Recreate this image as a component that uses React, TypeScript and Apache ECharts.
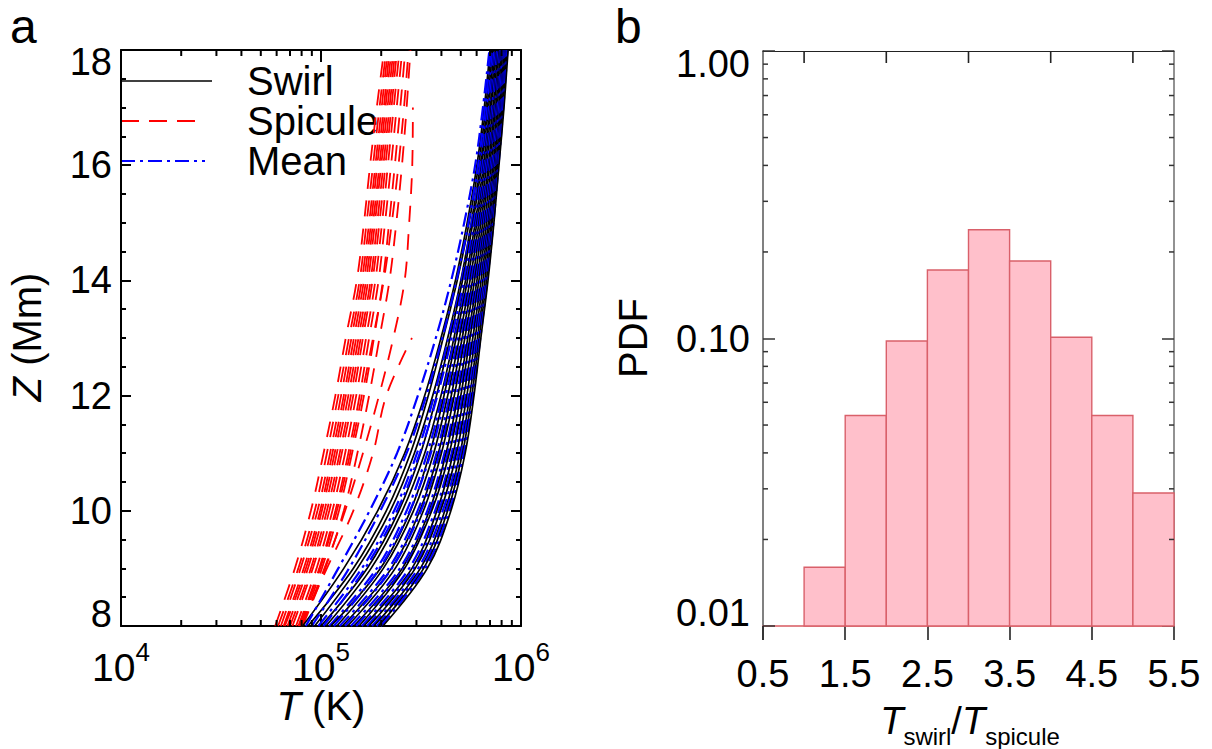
import React, { useEffect, useRef } from "react";
import * as echarts from "echarts";

const FONT = "'Liberation Sans', Arial, Helvetica, sans-serif";

// ---------- Panel a ----------
// heights (Mm) at which every profile is read
const zLevels = [8, 9, 10, 11, 12, 13, 14, 15, 16, 17, 18];
// temperatures in units of 1e5 K, one row per profile, one value per height
const swirlT: (number | null)[][] = [
  [0.81, 1.3, 1.92, 2.62, 3.3, 3.98, 4.7, 5.38, 6.02, 6.55, 7.0],
  [0.86, 1.45, 2.12, 2.8, 3.44, 4.08, 4.8, 5.5, 6.14, 6.66, 7.12],
  [0.93, 1.52, 2.22, 2.93, 3.62, 4.3, 5.0, 5.64, 6.26, 6.76, 7.22],
  [1.0, 1.7, 2.45, 3.15, 3.78, 4.42, 5.1, 5.74, 6.36, 6.88, 7.32],
  [1.06, 1.78, 2.55, 3.3, 3.98, 4.62, 5.28, 5.9, 6.5, 7.0, 7.44],
  [1.12, 1.98, 2.8, 3.5, 4.12, 4.74, 5.4, 6.02, 6.62, 7.1, 7.54],
  [1.2, 2.05, 2.9, 3.66, 4.3, 4.92, 5.56, 6.16, 6.74, 7.24, 7.66],
  [1.28, 2.25, 3.12, 3.86, 4.48, 5.08, 5.72, 6.3, 6.88, 7.36, 7.78],
  [1.36, 2.35, 3.25, 4.0, 4.64, 5.24, 5.86, 6.44, 6.98, 7.48, 7.9],
  [1.46, 2.55, 3.48, 4.22, 4.84, 5.42, 6.02, 6.58, 7.12, 7.6, 8.0],
  [1.55, 2.62, 3.58, 4.38, 5.0, 5.56, 6.16, 6.72, 7.24, 7.72, 8.1],
  [1.64, 2.85, 3.8, 4.58, 5.18, 5.74, 6.32, 6.86, 7.36, 7.84, 8.22],
  [1.74, 2.96, 3.96, 4.76, 5.36, 5.9, 6.46, 6.98, 7.48, 7.94, 8.32],
  [1.84, 3.14, 4.16, 4.96, 5.54, 6.06, 6.6, 7.1, 7.58, 8.04, 8.42],
  [1.94, 3.26, 4.3, 5.1, 5.68, 6.18, 6.72, 7.2, 7.66, 8.12, 8.52],
  [2.04, 3.4, 4.46, 5.26, 5.82, 6.3, 6.84, 7.32, 7.76, 8.22, 8.62],
];
const meanT: (number | null)[][] = [
  [0.84, 1.22, 1.75, 2.4, 3.05, 3.75, 4.48, 5.2, 5.9, 6.45, 6.95],
  [0.9, 1.38, 1.98, 2.68, 3.36, 4.04, 4.76, 5.46, 6.1, 6.62, 7.08],
  [0.97, 1.6, 2.32, 3.02, 3.68, 4.34, 5.04, 5.66, 6.28, 6.78, 7.24],
  [1.03, 1.66, 2.4, 3.12, 3.82, 4.5, 5.18, 5.82, 6.42, 6.92, 7.36],
  [1.1, 1.9, 2.68, 3.4, 4.04, 4.66, 5.34, 5.96, 6.56, 7.06, 7.48],
  [1.16, 1.96, 2.78, 3.54, 4.2, 4.84, 5.48, 6.1, 6.68, 7.18, 7.6],
  [1.24, 2.18, 3.04, 3.78, 4.4, 5.02, 5.64, 6.24, 6.8, 7.3, 7.72],
  [1.32, 2.26, 3.16, 3.92, 4.56, 5.16, 5.8, 6.38, 6.94, 7.44, 7.86],
  [1.41, 2.48, 3.4, 4.14, 4.76, 5.34, 5.96, 6.52, 7.06, 7.56, 7.96],
  [1.5, 2.58, 3.52, 4.3, 4.92, 5.5, 6.1, 6.66, 7.18, 7.66, 8.06],
  [1.6, 2.76, 3.72, 4.5, 5.1, 5.66, 6.26, 6.8, 7.3, 7.78, 8.16],
  [1.7, 2.9, 3.88, 4.68, 5.28, 5.84, 6.4, 6.94, 7.44, 7.9, 8.28],
  [1.8, 3.06, 4.06, 4.86, 5.46, 5.98, 6.54, 7.06, 7.54, 8.0, 8.38],
  [1.9, 3.2, 4.22, 5.02, 5.6, 6.12, 6.66, 7.16, 7.64, 8.08, 8.48],
  [1.99, 3.32, 4.38, 5.18, 5.76, 6.26, 6.78, 7.28, 7.72, 8.16, 8.56],
];
const spiculeT: (number | null)[][] = [
  [0.59, 0.74, 0.89, 1.03, 1.18, 1.33, 1.51, 1.64, 1.76, 1.9, 2.07],
  [0.61, 0.77, 0.93, 1.07, 1.22, 1.38, 1.56, 1.69, 1.82, 1.96, 2.12],
  [0.63, 0.79, 0.96, 1.11, 1.26, 1.42, 1.6, 1.74, 1.87, 2.01, 2.16],
  [0.65, 0.82, 0.99, 1.14, 1.3, 1.46, 1.64, 1.78, 1.91, 2.06, 2.2],
  [0.66, 0.84, 1.01, 1.17, 1.33, 1.5, 1.68, 1.82, 1.96, 2.1, 2.25],
  [0.68, 0.86, 1.04, 1.2, 1.37, 1.54, 1.72, 1.86, 2.0, 2.15, 2.3],
  [0.7, 0.89, 1.07, 1.24, 1.41, 1.58, 1.77, 1.91, 2.05, 2.2, 2.35],
  [0.72, 0.91, 1.1, 1.27, 1.45, 1.62, 1.81, 1.96, 2.1, 2.25, 2.4],
  [0.75, 0.95, 1.14, 1.32, 1.5, 1.68, 1.87, 2.02, 2.16, 2.31, 2.47],
  [0.77, 0.98, 1.18, 1.37, 1.56, 1.74, 1.94, 2.09, 2.24, 2.39, 2.55],
  [0.79, 1.01, 1.23, 1.43, 1.64, 1.84, 2.04, 2.19, 2.34, 2.49, 2.64],
  [0.81, 1.05, 1.3, 1.52, 1.74, 1.96, 2.2, 2.38, 2.54, 2.68, 2.8],
  [0.8, 1.04, 1.32, 1.62, 1.95, 2.3, 2.62, 2.76, 2.86, 2.88, null],
  [0.79, 1.07, 1.45, 1.82, 2.12, 2.85, null, null, null, null, null],
  [0.78, 0.99, 1.2, 1.4, 1.6, 1.82, 2.06, 2.26, 2.44, 2.6, 2.74],
];
const T_UNIT = 1e5; // K
const xMinorTicksA = [2e4, 3e4, 4e4, 5e4, 6e4, 7e4, 8e4, 9e4, 2e5, 3e5, 4e5, 5e5, 6e5, 7e5, 8e5, 9e5];
const legendItems = ["Swirl", "Spicule", "Mean"];

// ---------- Panel b ----------
const binStart = [0.5, 1.0, 1.5, 2.0, 2.5, 3.0, 3.5, 4.0, 4.5, 5.0];
const binEnd = [1.0, 1.5, 2.0, 2.5, 3.0, 3.5, 4.0, 4.5, 5.0, 5.5];
const pdfValues = [0, 0.016, 0.054, 0.098, 0.173, 0.239, 0.186, 0.101, 0.054, 0.029];
const topTicksB = [1, 2, 3, 4, 5];
const yMinorTicksB = [0.02, 0.03, 0.04, 0.05, 0.06, 0.07, 0.08, 0.09, 0.2, 0.3, 0.4, 0.5, 0.6, 0.7, 0.8, 0.9];

const tickSeries = (
  xi: number,
  yi: number,
  pts: number[][],
  dx: number,
  dy: number,
  len: number,
  color: string,
  width: number
) => ({
  type: "custom",
  xAxisIndex: xi,
  yAxisIndex: yi,
  silent: true,
  z: 6,
  clip: false,
  data: pts,
  renderItem: (_p: any, api: any) => {
    const c = api.coord([api.value(0), api.value(1)]);
    return {
      type: "line",
      shape: { x1: c[0], y1: c[1], x2: c[0] + dx * len, y2: c[1] + dy * len },
      style: { stroke: color, lineWidth: width },
    };
  },
});

const profileSeries = (rows: (number | null)[][], color: string, dash: any, width: number, name: string) =>
  rows.map((row) => ({
    type: "line",
    name,
    xAxisIndex: 0,
    yAxisIndex: 0,
    silent: true,
    symbol: "none",
    showSymbol: false,
    smooth: 0.35,
    clip: true,
    data: row
      .map((t, j) => (t == null ? null : [t * T_UNIT, zLevels[j]]))
      .filter((d) => d !== null),
    lineStyle: { color, width, type: dash, cap: "butt" },
  }));

export default function App() {
  const ref = useRef<HTMLDivElement>(null);
  useEffect(() => {
    if (!ref.current) return;
    const chart = echarts.init(ref.current, undefined, { renderer: "svg" });

    const black = "#000";
    const labelStyle = { fontFamily: FONT, fontSize: 38, color: "#000" };

    const interleaved: any[] = [];
    const sw = profileSeries(swirlT, "#000000", "solid", 1.7, "Swirl");
    const mn = profileSeries(meanT, "#0000ff", [14, 5, 3, 5], 2.2, "Mean");
    for (let i = 0; i < Math.max(sw.length, mn.length); i++) {
      if (sw[i]) interleaved.push(sw[i]);
      if (mn[i]) interleaved.push(mn[i]);
    }

    const option: any = {
      animation: false,
      backgroundColor: "#fff",
      grid: [
        { left: 121, top: 50, width: 400, height: 576 },
        { left: 763, top: 51, width: 411, height: 575 },
      ],
      xAxis: [
        {
          gridIndex: 0,
          type: "log",
          logBase: 10,
          min: 1e4,
          max: 1e6,
          position: "bottom",
          axisLine: { lineStyle: { color: black, width: 2 } },
          axisTick: { inside: true, length: 12, lineStyle: { color: black, width: 2 } },
          splitLine: { show: false },
          axisLabel: {
            margin: 13,
            formatter: (v: number) => `{b|10}{s|${Math.round(Math.log10(v))}}`,
            rich: {
              b: { fontFamily: FONT, fontSize: 39, color: "#000", lineHeight: 48, verticalAlign: "bottom" },
              s: { fontFamily: FONT, fontSize: 26, color: "#000", lineHeight: 48, verticalAlign: "top" },
            },
          },
        },
        {
          gridIndex: 0,
          type: "log",
          logBase: 10,
          min: 1e4,
          max: 1e6,
          position: "top",
          axisLine: { lineStyle: { color: black, width: 2 } },
          axisTick: { inside: true, length: 12, lineStyle: { color: black, width: 2 } },
          splitLine: { show: false },
          axisLabel: { show: false },
        },
        {
          gridIndex: 1,
          type: "value",
          min: 0.5,
          max: 5.5,
          interval: 1,
          position: "bottom",
          axisLine: { lineStyle: { color: "#d75a60", width: 1.6 } },
          axisTick: { inside: false, length: 14, lineStyle: { color: "#222", width: 1.6 } },
          splitLine: { show: false },
          axisLabel: { ...labelStyle, margin: 29, formatter: (v: number) => v.toFixed(1) },
        },
        {
          gridIndex: 1,
          type: "value",
          min: 0.5,
          max: 5.5,
          position: "top",
          axisLine: { lineStyle: { color: "#222", width: 1.2 } },
          axisTick: { show: false },
          splitLine: { show: false },
          axisLabel: { show: false },
        },
      ],
      yAxis: [
        {
          gridIndex: 0,
          type: "value",
          min: 8,
          max: 18,
          interval: 2,
          position: "left",
          axisLine: { lineStyle: { color: black, width: 2 } },
          axisTick: { inside: true, length: 10, lineStyle: { color: black, width: 2 } },
          minorTick: { show: true, splitNumber: 4, length: 5, lineStyle: { color: black, width: 2 } },
          splitLine: { show: false },
          minorSplitLine: { show: false },
          axisLabel: {
            ...labelStyle,
            margin: 9,
            lineHeight: 24,
            verticalAlignMinLabel: "bottom",
            verticalAlignMaxLabel: "top",
          },
        },
        {
          gridIndex: 0,
          type: "value",
          min: 8,
          max: 18,
          interval: 2,
          position: "right",
          axisLine: { lineStyle: { color: black, width: 2 } },
          axisTick: { inside: true, length: 10, lineStyle: { color: black, width: 2 } },
          minorTick: { show: true, splitNumber: 4, length: 5, lineStyle: { color: black, width: 2 } },
          splitLine: { show: false },
          minorSplitLine: { show: false },
          axisLabel: { show: false },
        },
        {
          gridIndex: 1,
          type: "log",
          logBase: 10,
          min: 0.01,
          max: 1,
          position: "left",
          axisLine: { lineStyle: { color: "#808080", width: 2 } },
          axisTick: { inside: true, length: 12, lineStyle: { color: "#333", width: 1.5 } },
          splitLine: { show: false },
          axisLabel: {
            ...labelStyle,
            margin: 13,
            lineHeight: 26,
            formatter: (v: number) => v.toFixed(2),
            verticalAlignMinLabel: "bottom",
            verticalAlignMaxLabel: "top",
          },
        },
        {
          gridIndex: 1,
          type: "log",
          logBase: 10,
          min: 0.01,
          max: 1,
          position: "right",
          axisLine: { lineStyle: { color: "#777", width: 1.6 } },
          axisTick: { inside: true, length: 12, lineStyle: { color: "#333", width: 1.5 } },
          splitLine: { show: false },
          axisLabel: { show: false },
        },
      ],
      series: [
        ...profileSeries(spiculeT, "#ff0000", [16, 12], 1.8, "Spicule"),
        ...interleaved,
        tickSeries(0, 0, xMinorTicksA.map((v) => [v, 8]), 0, -1, 6, black, 2),
        tickSeries(0, 0, xMinorTicksA.map((v) => [v, 18]), 0, 1, 6, black, 2),
        {
          type: "custom",
          xAxisIndex: 2,
          yAxisIndex: 2,
          silent: true,
          z: 3,
          data: binStart.map((s, i) => [s, binEnd[i], pdfValues[i]]).filter((d) => d[2] > 0),
          encode: { x: [0, 1], y: 2 },
          renderItem: (_p: any, api: any) => {
            const p0 = api.coord([api.value(0), 0.01]);
            const p1 = api.coord([api.value(1), api.value(2)]);
            return {
              type: "rect",
              shape: { x: p0[0], y: p1[1], width: p1[0] - p0[0], height: p0[1] - p1[1] },
              style: { fill: "#ffc0cb", stroke: "#d9606a", lineWidth: 1.4 },
            };
          },
        },
        tickSeries(2, 2, yMinorTicksB.map((v) => [0.5, v]), 1, 0, 5, "#333", 1.5),
        tickSeries(2, 2, yMinorTicksB.map((v) => [5.5, v]), -1, 0, 5, "#333", 1.5),
        tickSeries(2, 2, topTicksB.map((v) => [v, 1]), 0, 1, 12, "#222", 1.6),
      ],
      graphic: [
        {
          type: "text",
          x: 10,
          y: 26,
          style: { text: "a", fontFamily: FONT, fontSize: 48, verticalAlign: "middle", fill: "#000" },
        },
        {
          type: "text",
          x: 615,
          y: 26,
          style: { text: "b", fontFamily: FONT, fontSize: 48, verticalAlign: "middle", fill: "#000" },
        },
        // legend (panel a)
        { type: "line", shape: { x1: 121, y1: 81, x2: 212, y2: 81 }, style: { stroke: "#000", lineWidth: 1.7 } },
        { type: "line", shape: { x1: 121, y1: 121, x2: 197, y2: 121 }, style: { stroke: "#ff0000", lineWidth: 1.8, lineDash: [18, 10] } },
        { type: "line", shape: { x1: 121, y1: 161, x2: 205, y2: 161 }, style: { stroke: "#0000ff", lineWidth: 2, lineDash: [14, 5, 3, 5] } },
        ...legendItems.map((t, i) => ({
          type: "text",
          x: 247,
          y: 81 + i * 40,
          style: { text: t, fontFamily: FONT, fontSize: 40, fill: "#000", verticalAlign: "middle", align: "left" },
        })),
        // axis names
        {
          type: "text",
          x: 27,
          y: 337,
          rotation: Math.PI / 2,
          style: {
            text: "{i|Z} (Mm)",
            align: "center",
            verticalAlign: "middle",
            fontFamily: FONT,
            fontSize: 40,
            fill: "#000",
            rich: { i: { fontFamily: FONT, fontSize: 40, fontStyle: "italic", fill: "#000" } },
          },
        },
        {
          type: "text",
          x: 321,
          y: 706,
          style: {
            text: "{i|T} (K)",
            align: "center",
            verticalAlign: "middle",
            fontFamily: FONT,
            fontSize: 40,
            fill: "#000",
            rich: { i: { fontFamily: FONT, fontSize: 40, fontStyle: "italic", fill: "#000" } },
          },
        },
        {
          type: "text",
          x: 633,
          y: 338,
          rotation: Math.PI / 2,
          style: { text: "PDF", align: "center", verticalAlign: "middle", fontFamily: FONT, fontSize: 40, fill: "#000" },
        },
        {
          type: "text",
          x: 970,
          y: 725,
          style: {
            text: "{t|T}{s|swirl}{m|/}{t|T}{s|spicule}",
            align: "center",
            verticalAlign: "middle",
            fontFamily: FONT,
            fontSize: 38,
            fill: "#000",
            rich: {
              t: { fontFamily: FONT, fontSize: 38, fontStyle: "italic", lineHeight: 46, verticalAlign: "top", fill: "#000" },
              m: { fontFamily: FONT, fontSize: 38, lineHeight: 46, verticalAlign: "top", fill: "#000" },
              s: { fontFamily: FONT, fontSize: 24, lineHeight: 46, verticalAlign: "bottom", fill: "#000" },
            },
          },
        },
        // left axis of panel b continues past the baseline
        { type: "line", shape: { x1: 763, y1: 626, x2: 763, y2: 640 }, style: { stroke: "#808080", lineWidth: 2 } },
      ],
    };
    chart.setOption(option);
    return () => chart.dispose();
  }, []);
  return <div ref={ref} style={{ position: "fixed", left: 0, top: 0, width: 1212, height: 749 }} />;
}
